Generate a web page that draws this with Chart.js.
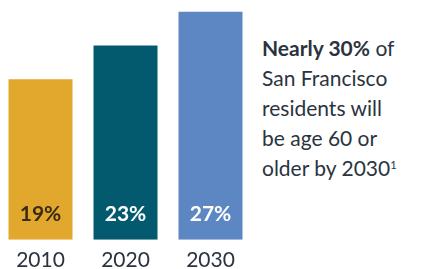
<!DOCTYPE html>
<html><head><meta charset="utf-8">
<script src="https://cdn.jsdelivr.net/npm/chart.js@4/dist/chart.umd.min.js"></script>
<style>
html,body{margin:0;padding:0;background:#fff;width:425px;height:269px;overflow:hidden;}
#wrap{position:absolute;left:-2px;top:0;width:255px;height:281px;}
#note{position:absolute;left:262px;top:33px;font-family:Lato,sans-serif;font-size:21px;line-height:30px;color:#2a3440;}
#note b{font-weight:700;}
sup{font-size:11px;vertical-align:top;position:relative;top:-3px;}
</style></head><body>
<div id="wrap"><canvas id="c" width="255" height="281"></canvas></div>
<div id="note"><b>Nearly 30%</b> of<br>San Francisco<br>residents will<br>be age 60 or<br>older by 2030<sup>1</sup></div>
<script>
const categories = ["2010","2020","2030"];
const values = [19,23,27];
const valueLabels = ["19%","23%","27%"];
const barColors = ["#E2A82E","#035A6E","#5C87C3"];
const labelColors = ["#3a2c12","#ffffff","#ffffff"];

const labelPlugin = {
  id:'valueLabels',
  afterDatasetsDraw(chart){
    const ctx = chart.ctx;
    const meta = chart.getDatasetMeta(0);
    ctx.save();
    ctx.font = "700 21px Lato, sans-serif";
    ctx.textAlign = "center";
    ctx.textBaseline = "alphabetic";
    meta.data.forEach((bar,i)=>{
      ctx.fillStyle = labelColors[i];
      ctx.fillText(valueLabels[i], bar.x, chart.chartArea.bottom - 19);
    });
    ctx.restore();
  }
};

const chart = new Chart(document.getElementById('c'),{
  type:'bar',
  data:{labels:categories,datasets:[{data:values,backgroundColor:barColors,borderWidth:0,categoryPercentage:1,barPercentage:0.753}]},
  options:{
    responsive:false,animation:false,
    layout:{padding:0},
    plugins:{legend:{display:false},tooltip:{enabled:false}},
    scales:{
      x:{grid:{display:false,drawTicks:false},border:{display:false},
         ticks:{padding:8,color:"#2a3440",font:{family:"Lato, sans-serif",size:21}}},
      y:{display:false,min:0,max:28.4}
    }
  },
  plugins:[labelPlugin]
});
</script>
</body></html>
